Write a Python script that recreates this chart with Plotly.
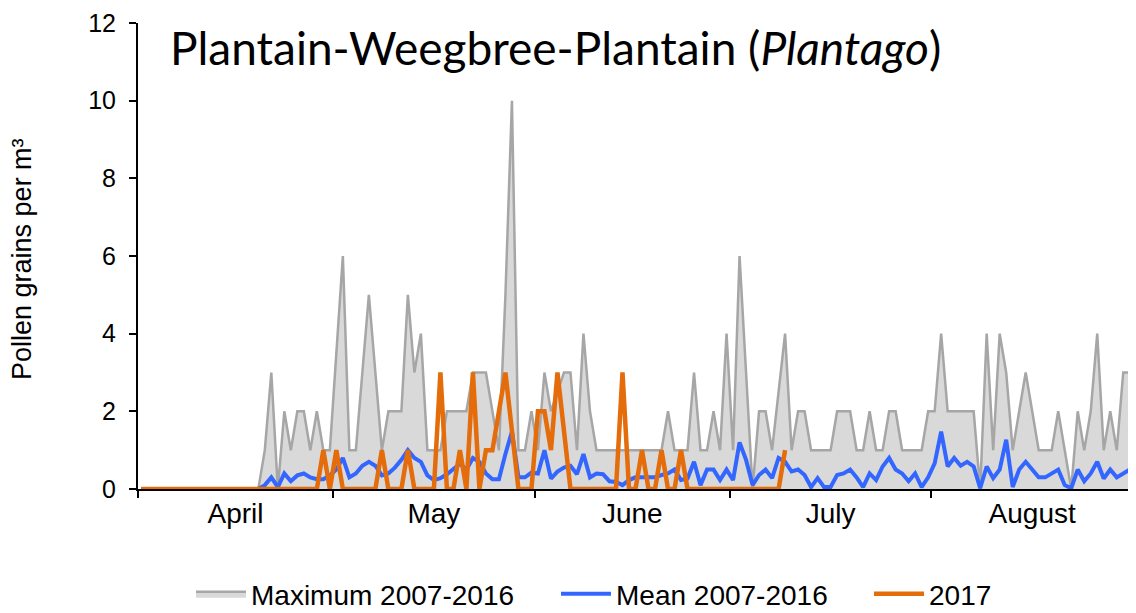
import plotly.graph_objects as go

# Day index 0 = 1 April ... 152 = 31 August
months = ["April", "May", "June", "July", "August"]
month_lengths = [30, 31, 30, 31, 31]

max_2007_2016 = [
    0, 0, 0, 0, 0, 0, 0, 0, 0, 0, 0, 0, 0, 0, 0, 0, 0, 0, 0,
    1, 3, 0, 2, 1, 2, 2, 1, 2, 1, 1, 3.5, 6, 1, 1, 3, 5, 3, 1, 2, 2,
    2, 5, 3, 4, 1, 1, 1, 2, 2, 2, 2, 3, 3, 3, 2, 1, 5, 10, 1, 1,
    2, 1, 3, 2, 2.5, 3, 3, 1, 4, 2, 1, 1, 1, 1, 1, 1, 1, 1, 1, 1,
    1, 2, 1, 1, 1, 3, 1, 1, 2, 1, 4, 1, 6, 3, 0, 2, 2, 1, 2.5, 4,
    1, 2, 2, 1, 1, 1, 1, 2, 2, 2, 1, 1, 2, 1, 1, 2, 2, 1, 1, 1,
    1, 2, 2, 4, 2, 2, 2, 2, 2, 0, 4, 1, 4, 3, 1, 2, 3, 2, 1, 1,
    1, 2, 1, 0, 2, 1, 2, 4, 1, 2, 1, 3, 3,
]

mean_2007_2016 = [
    0, 0, 0, 0, 0, 0, 0, 0, 0, 0, 0, 0, 0, 0, 0, 0, 0, 0, 0,
    0.1, 0.3, 0.05, 0.4, 0.2, 0.35, 0.4, 0.3, 0.25, 0.25, 0.35, 0.5, 0.8, 0.3, 0.4, 0.6, 0.7, 0.6, 0.35, 0.4, 0.55,
    0.75, 1.0, 0.8, 0.7, 0.35, 0.23, 0.28, 0.38, 0.5, 0.65, 0.5, 0.8, 0.7, 0.4, 0.25, 0.25, 0.9, 1.48, 0.3, 0.3,
    0.42, 0.4, 1.0, 0.27, 0.45, 0.55, 0.6, 0.38, 0.9, 0.3, 0.4, 0.38, 0.2, 0.18, 0.1, 0.23, 0.3, 0.3, 0.3, 0.3,
    0.36, 0.4, 0.5, 0.23, 0.27, 0.7, 0.1, 0.5, 0.5, 0.23, 0.5, 0.23, 1.2, 0.75, 0.1, 0.36, 0.5, 0.28, 0.8, 0.7,
    0.45, 0.5, 0.36, 0.05, 0.28, 0.05, 0.05, 0.36, 0.4, 0.5, 0.3, 0.05, 0.4, 0.23, 0.58, 0.8, 0.5, 0.4, 0.2, 0.4,
    0.05, 0.3, 0.66, 1.48, 0.58, 0.8, 0.6, 0.7, 0.58, 0.02, 0.58, 0.28, 0.5, 1.27, 0.05, 0.5, 0.7, 0.5, 0.3, 0.3,
    0.4, 0.5, 0.1, 0.02, 0.5, 0.2, 0.4, 0.7, 0.27, 0.5, 0.3, 0.4, 0.5,
]

y2017 = [
    0, 0, 0, 0, 0, 0, 0, 0, 0, 0, 0, 0, 0, 0, 0, 0, 0, 0, 0, 0,
    0, 0, 0, 0, 0, 0, 0, 0, 1, 0, 1, 0, 0, 0, 0, 0, 0, 1, 0, 0,
    0, 1, 0, 0, 0, 0, 3, 0, 0, 1, 0, 3, 0, 1, 1, 2, 3, 1.5, 0, 0,
    0, 2, 2, 1, 3, 1.5, 0, 0, 0, 0, 0, 0, 0, 0, 3, 0, 0, 1, 0, 0,
    1, 0, 0, 1, 0, 0, 0, 0, 0, 0, 0, 0, 0, 0, 0, 0, 0, 0, 0, 1,
]

days = list(range(len(max_2007_2016)))
days_2017 = list(range(len(y2017)))

# month boundaries and centres
bounds = [-0.5]
for n in month_lengths:
    bounds.append(bounds[-1] + n)
centres = [(bounds[i] + bounds[i + 1]) / 2 for i in range(len(months))]

FONT = "Liberation Sans"
LEG_FONT = dict(family=FONT, size=28, color="black")

# the page adds an 8 px body margin, so the figure is 8 px smaller on each side
W, H = 1128, 605
ML, MR, MT, MB = 130, 3, 15, 124
PW = W - ML - MR
PH = H - MT - MB


def px_to_paper_x(page_x):
    return (page_x - 8 - ML) / PW


def px_to_paper_y(page_y):
    return 1 - (page_y - 8 - MT) / PH


fig = go.Figure()
fig.add_trace(go.Scatter(
    x=days, y=max_2007_2016, name="Maximum 2007-2016", mode="lines",
    line=dict(color="#a6a6a6", width=2.5), fill="tozeroy", fillcolor="#d9d9d9",
    legend="legend",
))
fig.add_trace(go.Scatter(
    x=days, y=mean_2007_2016, name="Mean 2007-2016", mode="lines",
    line=dict(color="#3366ff", width=4), legend="legend2",
))
fig.add_trace(go.Scatter(
    x=days_2017, y=y2017, name="2017", mode="lines",
    line=dict(color="#e46c0a", width=4.5), legend="legend3",
))


def leg(page_x):
    return dict(orientation="h", x=px_to_paper_x(page_x), xanchor="left", y=px_to_paper_y(594),
                yanchor="middle", font=LEG_FONT, itemwidth=50, bgcolor="rgba(0,0,0,0)")


fig.update_layout(
    width=W, height=H,
    margin=dict(l=ML, r=MR, t=MT, b=MB, autoexpand=False),
    paper_bgcolor="white", plot_bgcolor="white",
    font=dict(family=FONT, size=24, color="black"),
    showlegend=True,
    legend=leg(191), legend2=leg(556), legend3=leg(869),
    xaxis=dict(
        range=[bounds[0], bounds[-1]], tickmode="array", tickvals=centres, ticktext=months,
        ticks="", showgrid=False, zeroline=False, showline=True, linecolor="black", linewidth=2,
        tickfont=dict(family=FONT, size=28, color="black"), layer="below traces",
        ticklabelstandoff=-2, automargin=False,
        minor=dict(tickmode="array", tickvals=bounds, ticks="outside", ticklen=7,
                   tickwidth=2, tickcolor="black", showgrid=False),
    ),
    yaxis=dict(
        range=[0, 12], tickmode="linear", tick0=0, dtick=2, ticks="outside", ticklen=7,
        tickwidth=2, tickcolor="black", showgrid=False, zeroline=False, showline=True,
        linecolor="black", linewidth=2, tickfont=dict(family=FONT, size=25, color="black"),
        ticklabelstandoff=8, automargin=False,
    ),
    annotations=[
        dict(text="Plantain-Weegbree-Plantain (<i>Plantago</i>)", xref="paper", yref="paper",
             x=px_to_paper_x(168), y=px_to_paper_y(47), xanchor="left", yanchor="middle",
             showarrow=False, font=dict(family="Lato", size=46, color="black")),
        dict(text="Pollen grains per m³", xref="paper", yref="paper", x=px_to_paper_x(22),
             y=px_to_paper_y(259), xanchor="center", yanchor="middle", textangle=-90,
             showarrow=False, font=dict(family=FONT, size=27, color="black")),
    ],
)

fig.write_html("out.html")
